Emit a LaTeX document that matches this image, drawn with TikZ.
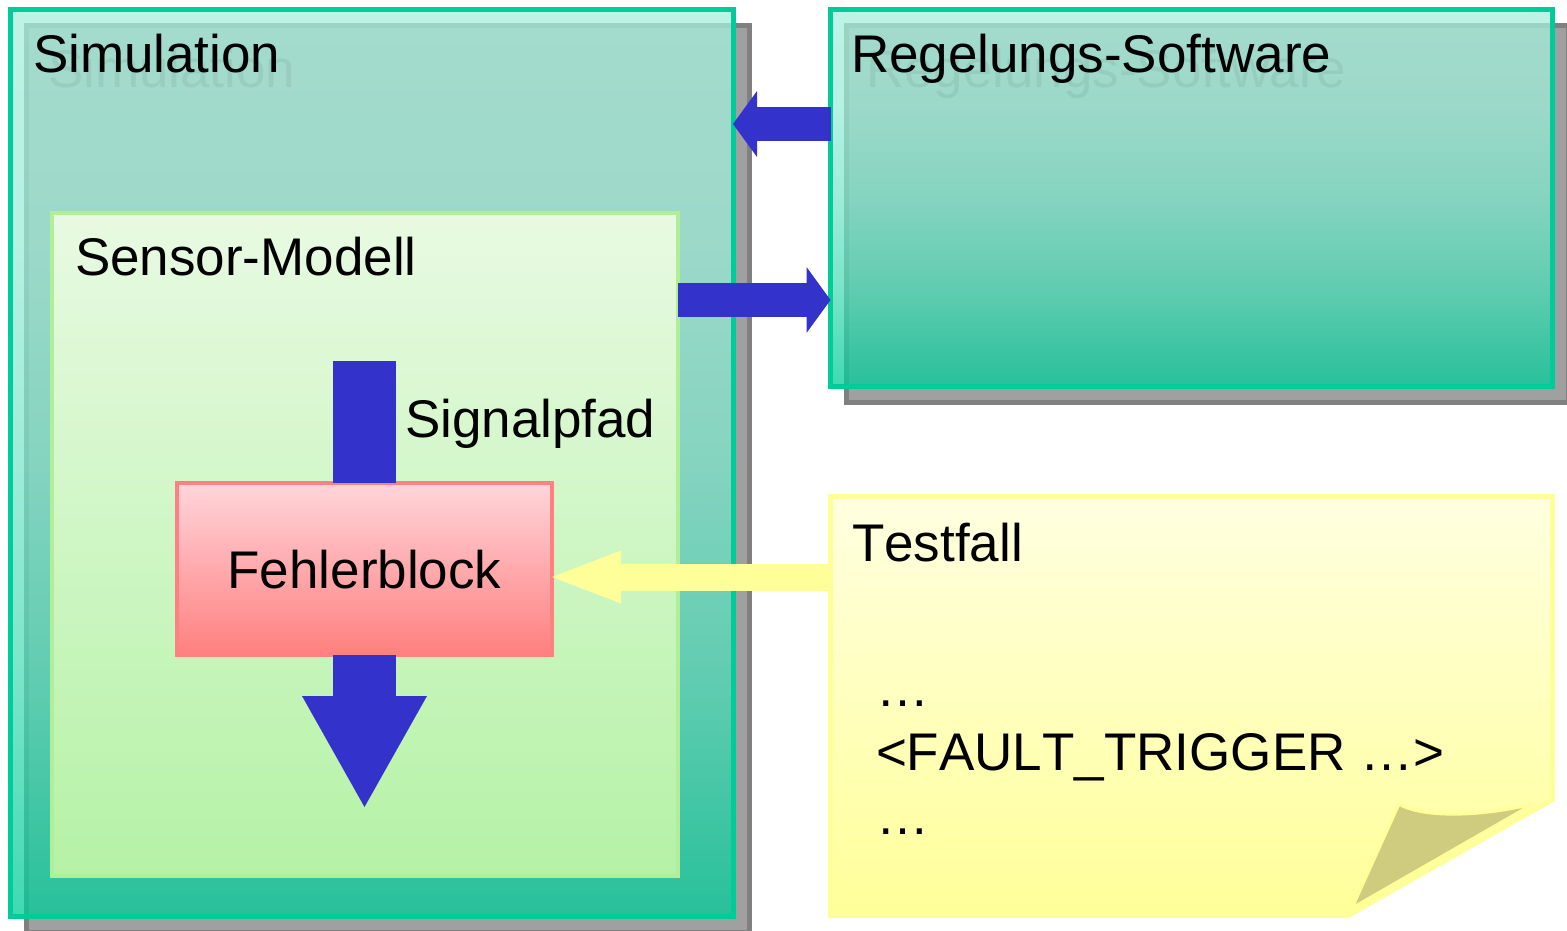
\documentclass[tikz,border=0pt]{standalone}
\usepackage{fontspec}
\setmainfont{Liberation Sans}[Kerning=Off]
\usetikzlibrary{arrows.meta,calc,backgrounds}

\definecolor{simgreen}{HTML}{00CC99}
\definecolor{simtop}{HTML}{A6EFDC}
\definecolor{shadowgray}{HTML}{A0A0A0}
\definecolor{shadowedge}{HTML}{808080}
\definecolor{sensorline}{HTML}{B0EE9C}
\definecolor{sensortop}{HTML}{E8FAE2}
\definecolor{sensorbottom}{HTML}{B5F2A6}
\definecolor{faultline}{HTML}{FF8080}
\definecolor{faulttop}{HTML}{FFD5DA}
\definecolor{faultbottom}{HTML}{FF7F7F}
\definecolor{flowblue}{HTML}{3333CC}
\definecolor{triggeryellow}{HTML}{FFFF99}
\definecolor{notetop}{HTML}{FFFFE0}
\definecolor{notebottom}{HTML}{FFFF99}
\definecolor{flapcolor}{HTML}{CFCC7F}

% teal fill that stays light near the top and deepens towards the bottom
\pgfdeclareverticalshading{tealfade}{100bp}{%
  color(0bp)=(simgreen); color(25bp)=(simgreen);
  color(37.5bp)=(simgreen!56!simtop); color(50bp)=(simgreen!25!simtop);
  color(62.5bp)=(simgreen!6!simtop); color(75bp)=(simtop); color(100bp)=(simtop)}

\tikzset{
  every node/.style={inner sep=0pt, outer sep=0pt},
  bigtext/.style={font=\fontsize{53}{64}\selectfont},
  title/.style={bigtext, anchor=base west},
  titleshadow/.style={bigtext, anchor=base west, text=black, text opacity=0.06},
  dropshadow/.style={fill=shadowgray, draw=shadowedge, line width=5pt},
  tealbox/.style={draw=simgreen, line width=5pt, shading=tealfade, fill opacity=0.75},
  sensorbox/.style={draw=sensorline, line width=4pt, shading=axis,
    top color=sensortop, bottom color=sensorbottom},
  faultbox/.style={draw=faultline, line width=4pt, shading=axis,
    top color=faulttop, bottom color=faultbottom},
  notebox/.style={draw=triggeryellow, line width=5pt, line join=miter,
    shading=axis, top color=notetop, bottom color=notebottom},
  blueflow/.style={draw=flowblue, line width=34pt,
    -{Triangle[length=24pt, width=66pt, line width=0pt]}},
  signalshaft/.style={draw=flowblue, line width=63pt},
  signalout/.style={draw=flowblue, line width=63pt,
    -{Triangle[length=111pt, width=125pt, line width=0pt]}},
  triggerflow/.style={draw=triggeryellow, line width=27pt,
    -{Triangle[length=69pt, width=53pt, line width=0pt]}},
}

\begin{document}
\begin{tikzpicture}[x=1pt, y=-1pt]
\useasboundingbox (0,0) rectangle (1567,931);

% boxes
\node[tealbox, minimum width=723pt, minimum height=906pt] (sim) at (371.5,463) {};
\node[tealbox, minimum width=722pt, minimum height=377pt] (regel) at (1191.5,198) {};
\node[sensorbox, minimum width=626.5pt, minimum height=663pt] (sensor) at (364.75,544.5) {};
\node[faultbox, minimum width=375pt, minimum height=172pt] (fehler) at (364.5,569) {};
\node[minimum width=722pt, minimum height=419pt] (note) at (1191.5,706) {};

% drop shadows behind the teal boxes
\begin{scope}[on background layer]
  \draw[dropshadow] ($(sim.north west)+(16,16)$) rectangle ($(sim.south east)+(16,16)$);
  \draw[dropshadow] ($(regel.north west)+(16,16)$) rectangle ($(regel.south east)+(16,16)$);
\end{scope}

% note sheet with the folded corner
\path[notebox] (note.north west) -- (note.north east) -- ($(note.south east)+(0,-116)$)
  -- ($(note.south east)+(-204.5,0)$) -- (note.south west) -- cycle;
\fill[flapcolor, draw=triggeryellow, line width=3pt, line join=round]
  (1399,804) .. controls (1420,817) and (1475,818) .. (1533,804) -- (1352,908) -- cycle;

% signal path through the fault block
\coordinate (sigtop) at (364.5,361);
\coordinate (sigend) at (364.5,807);
\draw[signalshaft] (sigtop) -- (fehler.north);
\draw[signalout] (fehler.south) -- (sigend);

% data flow between the boxes
\coordinate (triggerin) at ($(fehler.east)+(0,8)$);
\draw[blueflow] (regel.west |- 0,124) -- (sim.east |- 0,124);
\draw[blueflow] (sensor.east |- 0,300) -- (regel.west |- 0,300);
\draw[triggerflow] (note.west |- triggerin) -- (triggerin);

% labels
\node[titleshadow] (simshade) at (48,88) {Simulation};
\node[title] (simtitle) at (33,73) {Simulation};
\node[titleshadow] (regelshade) at (866,88) {Regelungs-Software};
\node[title] (regeltitle) at (851,73) {Regelungs-Software};
\node[title] (sensortitle) at (75,275) {Sensor-Modell};
\node[title] (signallabel) at (405,437) {Signalpfad};
\node[bigtext, anchor=base] (fehlertitle) at (364.5,588) {Fehlerblock};
\node[title] (notetitle) at (852,561) {Testfall};
\node[title] (noteline1) at (876,706) {…};
\node[title] (noteline2) at (876,770) {<FAULT\_TRIGGER …>};
\node[title] (noteline3) at (876,834) {…};
\end{tikzpicture}
\end{document}
